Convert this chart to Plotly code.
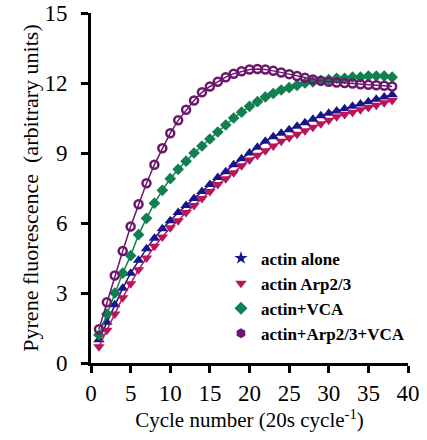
import plotly.graph_objects as go

cycles = list(range(1, 39))

actin_alone = [1.0, 1.75, 2.5, 3.2, 3.85, 4.4, 4.9, 5.35, 5.75, 6.1,
               6.45, 6.75, 7.05, 7.35, 7.65, 7.95, 8.2, 8.5, 8.75, 9.0,
               9.25, 9.5, 9.7, 9.85, 10.0, 10.15, 10.3, 10.45, 10.6, 10.7,
               10.8, 10.9, 11.0, 11.1, 11.2, 11.3, 11.4, 11.5]
actin_arp = [0.7, 1.4, 2.1, 2.8, 3.4, 4.0, 4.5, 5.0, 5.4, 5.8,
             6.1, 6.45, 6.75, 7.05, 7.35, 7.65, 7.9, 8.15, 8.45, 8.7,
             8.9, 9.1, 9.3, 9.5, 9.65, 9.8, 9.95, 10.1, 10.25, 10.4,
             10.55, 10.65, 10.75, 10.85, 10.95, 11.05, 11.15, 11.25]
actin_vca = [1.2, 2.1, 3.0, 3.85, 4.6, 5.5, 6.2, 6.85, 7.4, 7.9,
             8.3, 8.65, 9.0, 9.3, 9.6, 9.9, 10.2, 10.5, 10.75, 11.0,
             11.2, 11.4, 11.55, 11.7, 11.8, 11.9, 12.0, 12.05, 12.1, 12.15,
             12.2, 12.2, 12.25, 12.25, 12.3, 12.3, 12.3, 12.25]
actin_arp_vca = [1.45, 2.6, 3.75, 4.8, 5.85, 6.8, 7.7, 8.5, 9.2, 9.85,
                 10.4, 10.85, 11.25, 11.6, 11.85, 12.05, 12.25, 12.4, 12.5, 12.58,
                 12.6, 12.58, 12.52, 12.45, 12.38, 12.3, 12.22, 12.15, 12.1, 12.05,
                 12.02, 12.0, 11.98, 11.95, 11.92, 11.9, 11.88, 11.85]

x_ticks = [0, 5, 10, 15, 20, 25, 30, 35, 40]
y_ticks = [0, 3, 6, 9, 12, 15]

names = ["actin alone", "actin Arp2/3", "actin+VCA", "actin+Arp2/3+VCA"]
colors = ["#16168a", "#b8155c", "#118050", "#6c176c"]
symbols = ["triangle-up", "triangle-down", "diamond", "circle-open"]
sizes = [10, 10, 9, 8]
series = [actin_alone, actin_arp, actin_vca, actin_arp_vca]

SERIF = "Liberation Serif, Times New Roman, serif"

fig = go.Figure()
for name, ys, col, sym, sz in zip(names, series, colors, symbols, sizes):
    fig.add_trace(go.Scatter(
        x=cycles, y=ys, mode="lines+markers", name=name, showlegend=False,
        line=dict(color=col, width=1.5),
        marker=dict(symbol=sym, size=sz, color=col,
                    line=dict(color=col, width=2.5 if sym == "circle-open" else 0)),
    ))
for name, col, sym in zip(names, colors, ["star", "triangle-down", "diamond", "hexagon"]):
    fig.add_trace(go.Scatter(
        x=[None], y=[None], mode="markers", name=name,
        marker=dict(symbol=sym, size=10, color=col),
    ))

fig.update_layout(
    width=427, height=440,
    margin=dict(l=91, r=19, t=13, b=77, autoexpand=False),
    paper_bgcolor="white", plot_bgcolor="white",
    font=dict(family=SERIF, color="black", size=23),
    legend=dict(x=0.41, y=0.35, xanchor="left", yanchor="top",
                font=dict(family=SERIF, size=17, color="black", weight="bold"),
                bgcolor="rgba(0,0,0,0)", itemwidth=30, tracegroupgap=0),
    xaxis=dict(range=[0, 40], tickmode="array", tickvals=x_ticks,
               ticktext=[str(v) for v in x_ticks], automargin=False,
               showgrid=False, zeroline=False, showline=True, linecolor="black", linewidth=3,
               ticks="outside", ticklen=7, tickwidth=3, tickcolor="black",
               tickfont=dict(size=23, family=SERIF), ticklabelstandoff=0,
               title=dict(text="Cycle number (20s cycle<sup>-1</sup>)",
                          font=dict(size=21, family=SERIF), standoff=1)),
    yaxis=dict(range=[0, 15], tickmode="array", tickvals=y_ticks,
               ticktext=[str(v) for v in y_ticks], automargin=False,
               showgrid=False, zeroline=False, showline=True, linecolor="black", linewidth=3,
               ticks="outside", ticklen=7, tickwidth=3, tickcolor="black",
               tickfont=dict(size=23, family=SERIF), ticklabelstandoff=9,
               title=dict(text="Pyrene fluorescence  (arbitrary units)",
                          font=dict(size=22, family=SERIF), standoff=0)),
)

fig.write_html("out.html", config={"displayModeBar": False},
               post_script="document.body.style.margin='0';")
